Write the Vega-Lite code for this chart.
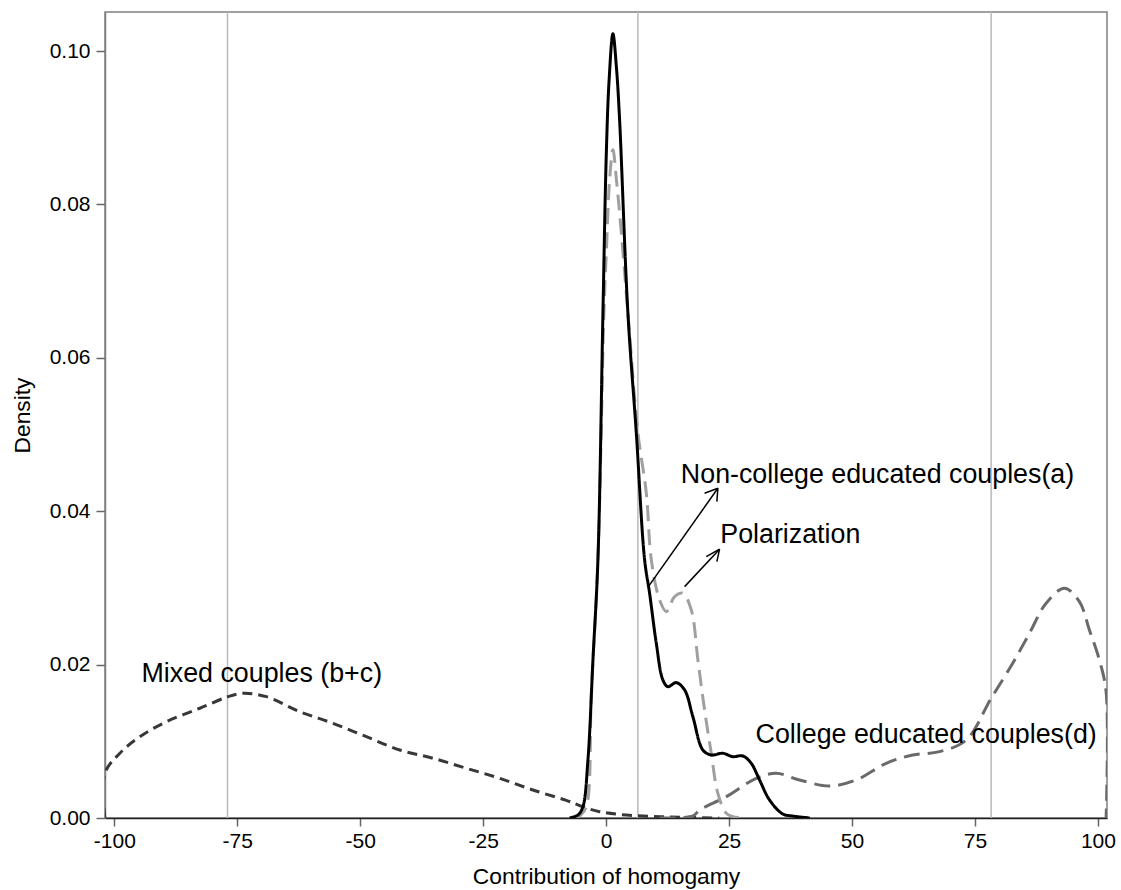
{
  "$schema": "https://vega.github.io/schema/vega-lite/v6.json",
  "width": 1002,
  "height": 806,
  "autosize": {"type": "none"},
  "padding": {"left": 105, "top": 12, "right": 14, "bottom": 72},
  "background": "white",
  "config": {
    "font": "Liberation Sans",
    "view": {"stroke": "#808080", "strokeWidth": 1.5},
    "axis": {
      "grid": false,
      "labelFontSize": 21,
      "labelColor": "#000000",
      "titleFontSize": 22.8,
      "titleFontWeight": "normal",
      "titleColor": "#000000",
      "labelFlush": false,
      "labelOverlap": false,
      "tickColor": "#666666",
      "tickWidth": 1.5,
      "domainWidth": 1.5
    },
    "axisX": {"tickSize": 8, "labelPadding": 4, "titlePadding": 14, "domainColor": "#222222"},
    "axisY": {"tickSize": 9, "labelPadding": 6, "titlePadding": 15, "domainColor": "#808080"}
  },
  "layer": [
    {
      "data": {"values": [{"v": -76.99}, {"v": 6.46}, {"v": 78.29}]},
      "mark": {"type": "rule", "color": "#bbbbbb", "strokeWidth": 1.5},
      "encoding": {
        "x": {"field": "v", "type": "quantitative", "scale": {"domain": [-101.9, 101.85], "nice": false, "zero": false}, "title": "Contribution of homogamy", "axis": {"values": [-100, -75, -50, -25, 0, 25, 50, 75, 100], "labelExpr": "replace(datum.label, '\u2212', '-')"}}
      }
    },
    {
      "data": {"values": [
        {"s": "Mixed", "i": 0, "x": -101.93, "y": 0},
        {"s": "Mixed", "i": 1, "x": -101.93, "y": 0.00583},
        {"s": "Mixed", "i": 2, "x": -98.88, "y": 0.00844},
        {"s": "Mixed", "i": 3, "x": -94.82, "y": 0.0106},
        {"s": "Mixed", "i": 4, "x": -89.39, "y": 0.01256},
        {"s": "Mixed", "i": 5, "x": -82.62, "y": 0.01431},
        {"s": "Mixed", "i": 6, "x": -76.87, "y": 0.01582},
        {"s": "Mixed", "i": 7, "x": -73.82, "y": 0.01626},
        {"s": "Mixed", "i": 8, "x": -69.07, "y": 0.01582},
        {"s": "Mixed", "i": 9, "x": -62.3, "y": 0.01386},
        {"s": "Mixed", "i": 10, "x": -55.53, "y": 0.01235},
        {"s": "Mixed", "i": 11, "x": -48.74, "y": 0.0106},
        {"s": "Mixed", "i": 12, "x": -41.97, "y": 0.00887},
        {"s": "Mixed", "i": 13, "x": -35.2, "y": 0.00779},
        {"s": "Mixed", "i": 14, "x": -28.41, "y": 0.00648},
        {"s": "Mixed", "i": 15, "x": -21.65, "y": 0.00518},
        {"s": "Mixed", "i": 16, "x": -14.88, "y": 0.00365},
        {"s": "Mixed", "i": 17, "x": -8.09, "y": 0.0023},
        {"s": "Mixed", "i": 18, "x": -4.72, "y": 0.00147},
        {"s": "Mixed", "i": 19, "x": -1.32, "y": 0.00082},
        {"s": "Mixed", "i": 20, "x": 4.1, "y": 0.00039},
        {"s": "Mixed", "i": 21, "x": 12.9, "y": 0.00013},
        {"s": "Mixed", "i": 22, "x": 23, "y": 0},

        {"s": "College", "i": 0, "x": 10.87, "y": 0},
        {"s": "College", "i": 1, "x": 17.64, "y": 0.00026},
        {"s": "College", "i": 2, "x": 19.0, "y": 0.00104},
        {"s": "College", "i": 3, "x": 24.43, "y": 0.00278},
        {"s": "College", "i": 4, "x": 30.53, "y": 0.00518},
        {"s": "College", "i": 5, "x": 34.59, "y": 0.00583},
        {"s": "College", "i": 6, "x": 39.33, "y": 0.00496},
        {"s": "College", "i": 7, "x": 45.43, "y": 0.00417},
        {"s": "College", "i": 8, "x": 50.85, "y": 0.00496},
        {"s": "College", "i": 9, "x": 56.95, "y": 0.00713},
        {"s": "College", "i": 10, "x": 62.36, "y": 0.00822},
        {"s": "College", "i": 11, "x": 67.78, "y": 0.00865},
        {"s": "College", "i": 12, "x": 73.21, "y": 0.01017},
        {"s": "College", "i": 13, "x": 78.29, "y": 0.01561},
        {"s": "College", "i": 14, "x": 82.68, "y": 0.02018},
        {"s": "College", "i": 15, "x": 86.08, "y": 0.02409},
        {"s": "College", "i": 16, "x": 89.47, "y": 0.0280},
        {"s": "College", "i": 17, "x": 93.19, "y": 0.02996},
        {"s": "College", "i": 18, "x": 96.24, "y": 0.02821},
        {"s": "College", "i": 19, "x": 98.27, "y": 0.02452},
        {"s": "College", "i": 20, "x": 100.3, "y": 0.02061},
        {"s": "College", "i": 21, "x": 101.67, "y": 0.01647},
        {"s": "College", "i": 22, "x": 101.67, "y": 0},

        {"s": "Polarization", "i": 0, "x": -6.4, "y": 0},
        {"s": "Polarization", "i": 1, "x": -5.18, "y": 0.00039},
        {"s": "Polarization", "i": 2, "x": -4.02, "y": 0.00147},
        {"s": "Polarization", "i": 3, "x": -3.01, "y": 0.01626},
        {"s": "Polarization", "i": 4, "x": -1.67, "y": 0.03365},
        {"s": "Polarization", "i": 5, "x": -0.45, "y": 0.06587},
        {"s": "Polarization", "i": 6, "x": 0.04, "y": 0.07369},
        {"s": "Polarization", "i": 7, "x": 0.71, "y": 0.08322},
        {"s": "Polarization", "i": 8, "x": 1.38, "y": 0.08713},
        {"s": "Polarization", "i": 9, "x": 2.13, "y": 0.083},
        {"s": "Polarization", "i": 10, "x": 3.09, "y": 0.0763},
        {"s": "Polarization", "i": 11, "x": 4.43, "y": 0.06587},
        {"s": "Polarization", "i": 12, "x": 6.46, "y": 0.05022},
        {"s": "Polarization", "i": 13, "x": 8.17, "y": 0.04239},
        {"s": "Polarization", "i": 14, "x": 9.19, "y": 0.03365},
        {"s": "Polarization", "i": 15, "x": 10.87, "y": 0.02843},
        {"s": "Polarization", "i": 16, "x": 12.24, "y": 0.02691},
        {"s": "Polarization", "i": 17, "x": 13.92, "y": 0.02886},
        {"s": "Polarization", "i": 18, "x": 15.61, "y": 0.02931},
        {"s": "Polarization", "i": 19, "x": 17.32, "y": 0.02713},
        {"s": "Polarization", "i": 20, "x": 18.66, "y": 0.02061},
        {"s": "Polarization", "i": 21, "x": 20.02, "y": 0.01409},
        {"s": "Polarization", "i": 22, "x": 21.38, "y": 0.00844},
        {"s": "Polarization", "i": 23, "x": 22.72, "y": 0.00322},
        {"s": "Polarization", "i": 24, "x": 24.43, "y": 0.00061},
        {"s": "Polarization", "i": 25, "x": 25.77, "y": 0.00017},
        {"s": "Polarization", "i": 26, "x": 28.15, "y": 0},

        {"s": "Non-college", "i": 0, "x": -7.42, "y": 0},
        {"s": "Non-college", "i": 1, "x": -5.73, "y": 0.00039},
        {"s": "Non-college", "i": 2, "x": -4.72, "y": 0.00147},
        {"s": "Non-college", "i": 3, "x": -3.7, "y": 0.00756},
        {"s": "Non-college", "i": 4, "x": -2.68, "y": 0.02061},
        {"s": "Non-college", "i": 5, "x": -1.67, "y": 0.03365},
        {"s": "Non-college", "i": 6, "x": -0.65, "y": 0.06583},
        {"s": "Non-college", "i": 7, "x": 0.04, "y": 0.0867},
        {"s": "Non-college", "i": 8, "x": 0.61, "y": 0.09626},
        {"s": "Non-college", "i": 9, "x": 1.38, "y": 0.10226},
        {"s": "Non-college", "i": 10, "x": 2.13, "y": 0.09756},
        {"s": "Non-college", "i": 11, "x": 2.74, "y": 0.09104},
        {"s": "Non-college", "i": 12, "x": 4.43, "y": 0.06583},
        {"s": "Non-college", "i": 13, "x": 6.14, "y": 0.05018},
        {"s": "Non-college", "i": 14, "x": 7.83, "y": 0.03365},
        {"s": "Non-college", "i": 15, "x": 8.84, "y": 0.02931},
        {"s": "Non-college", "i": 16, "x": 10.2, "y": 0.02279},
        {"s": "Non-college", "i": 17, "x": 11.54, "y": 0.018},
        {"s": "Non-college", "i": 18, "x": 12.56, "y": 0.01713},
        {"s": "Non-college", "i": 19, "x": 14.27, "y": 0.01765},
        {"s": "Non-college", "i": 20, "x": 15.96, "y": 0.0167},
        {"s": "Non-college", "i": 21, "x": 17.64, "y": 0.01321},
        {"s": "Non-college", "i": 22, "x": 19.67, "y": 0.00887},
        {"s": "Non-college", "i": 23, "x": 21.38, "y": 0.00822},
        {"s": "Non-college", "i": 24, "x": 23.74, "y": 0.00844},
        {"s": "Non-college", "i": 25, "x": 25.77, "y": 0.008},
        {"s": "Non-college", "i": 26, "x": 27.8, "y": 0.00809},
        {"s": "Non-college", "i": 27, "x": 29.51, "y": 0.00713},
        {"s": "Non-college", "i": 28, "x": 31.2, "y": 0.00496},
        {"s": "Non-college", "i": 29, "x": 33.23, "y": 0.00235},
        {"s": "Non-college", "i": 30, "x": 35.93, "y": 0.00052},
        {"s": "Non-college", "i": 31, "x": 37.97, "y": 0.00026},
        {"s": "Non-college", "i": 32, "x": 41.4, "y": 0}
      ]},
      "mark": {"type": "line", "strokeWidth": 3, "interpolate": "catmull-rom", "clip": true},
      "encoding": {
        "x": {"field": "x", "type": "quantitative", "scale": {"domain": [-101.9, 101.85], "nice": false, "zero": false}, "title": "Contribution of homogamy"},
        "y": {"field": "y", "type": "quantitative", "scale": {"domain": [0, 0.1051], "nice": false, "zero": false}, "title": "Density", "axis": {"values": [0, 0.02, 0.04, 0.06, 0.08, 0.1], "format": ".2f"}},
        "detail": {"field": "s", "type": "nominal"},
        "order": {"field": "i", "type": "quantitative"},
        "color": {"field": "s", "type": "nominal", "legend": null, "scale": {"domain": ["Mixed", "College", "Polarization", "Non-college"], "range": ["#383838", "#6a6a6a", "#a0a0a0", "#000000"]}},
        "strokeDash": {"field": "s", "type": "nominal", "legend": null, "scale": {"domain": ["Mixed", "College", "Polarization", "Non-college"], "range": [[10, 6], [16, 8], [16, 8], [1, 0]]}}
      }
    },
    {
      "data": {"values": [
        {"x": 8.70, "y": 0.03026, "x2": 22.72, "y2": 0.043},
        {"x": 20.02, "y": 0.04235, "x2": 22.72, "y2": 0.043},
        {"x": 22.52, "y": 0.04125, "x2": 22.72, "y2": 0.043},
        {"x": 15.96, "y": 0.03017, "x2": 23.07, "y2": 0.03505},
        {"x": 20.37, "y": 0.03408, "x2": 23.07, "y2": 0.03505},
        {"x": 22.52, "y": 0.03343, "x2": 23.07, "y2": 0.03505}
      ]},
      "mark": {"type": "rule", "color": "#000000", "strokeWidth": 1.5},
      "encoding": {
        "x": {"field": "x", "type": "quantitative", "title": "Contribution of homogamy"},
        "y": {"field": "y", "type": "quantitative", "title": "Density"},
        "x2": {"field": "x2"},
        "y2": {"field": "y2"}
      }
    },
    {
      "data": {"values": [
        {"t": "Non-college educated couples(a)", "x": 15.2, "y": 0.04373},
        {"t": "Polarization", "x": 23.21, "y": 0.03587},
        {"t": "Mixed couples (b+c)", "x": -94.47, "y": 0.0177},
        {"t": "College educated couples(d)", "x": 30.39, "y": 0.00982}
      ]},
      "mark": {"type": "text", "align": "left", "baseline": "alphabetic", "fontSize": 26.8, "color": "#000000"},
      "encoding": {
        "x": {"field": "x", "type": "quantitative", "title": "Contribution of homogamy"},
        "y": {"field": "y", "type": "quantitative", "title": "Density"},
        "text": {"field": "t"}
      }
    }
  ]
}
